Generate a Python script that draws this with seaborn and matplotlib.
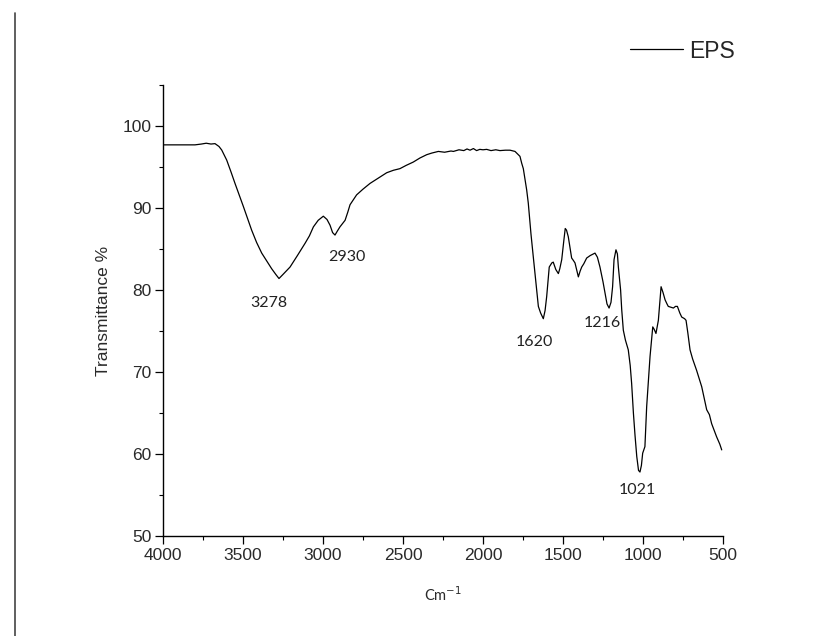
import matplotlib
matplotlib.use("Agg")
import matplotlib.pyplot as plt
from matplotlib.lines import Line2D
from matplotlib.ticker import MultipleLocator
import seaborn as sns
import pandas as pd

wavenumber = [4000, 3900, 3800, 3760, 3730, 3700, 3675, 3650, 3633, 3602, 3575, 3550,
              3498, 3446, 3415, 3383, 3350, 3321, 3295, 3275, 3250, 3230, 3206, 3160,
              3112, 3085, 3060, 3030, 2998, 2975, 2956, 2940, 2925, 2910, 2894, 2862,
              2845, 2831, 2790, 2750, 2706, 2650, 2602, 2560, 2519, 2480, 2436, 2394,
              2352, 2320, 2279, 2240, 2200, 2185, 2150, 2120, 2100, 2081, 2060, 2040,
              2020, 2000, 1977, 1950, 1920, 1894, 1860, 1831, 1800, 1790, 1769, 1758,
              1748, 1735, 1727, 1717, 1700, 1686, 1670, 1654, 1640, 1623, 1612, 1602,
              1586, 1570, 1561, 1545, 1529, 1520, 1508, 1495, 1486, 1478, 1467, 1455,
              1446, 1435, 1425, 1414, 1404, 1393, 1383, 1370, 1352, 1330, 1300, 1285,
              1269, 1250, 1237, 1225, 1212, 1200, 1190, 1181, 1169, 1160, 1154, 1140,
              1133, 1123, 1110, 1092, 1080, 1071, 1060, 1050, 1039, 1028, 1019, 1010,
              1002, 988, 977, 966, 956, 939, 930, 919, 904, 895, 887, 875,
              862, 850, 842, 825, 810, 797, 785, 770, 758, 740, 731, 720,
              706, 690, 665, 633, 602, 585, 571, 540, 520, 508]
transmittance = [97.7, 97.7, 97.7, 97.8, 97.9, 97.8, 97.85, 97.5, 97.07, 95.85, 94.4, 93.0,
                 90.2, 87.3, 85.8, 84.5, 83.5, 82.6, 81.9, 81.4, 81.9, 82.3, 82.8, 84.2,
                 85.7, 86.6, 87.7, 88.5, 89.0, 88.6, 87.9, 87.0, 86.7, 87.2, 87.7, 88.5,
                 89.5, 90.4, 91.6, 92.3, 93.0, 93.7, 94.3, 94.6, 94.8, 95.2, 95.6, 96.1,
                 96.5, 96.7, 96.9, 96.8, 96.95, 96.9, 97.1, 97.0, 97.2, 97.05, 97.25, 97.0,
                 97.15, 97.1, 97.15, 97.0, 97.1, 97.0, 97.05, 97.05, 96.9, 96.7, 96.3, 95.45,
                 94.8, 93.2, 92.2, 90.6, 86.8, 84.1, 81.0, 78.0, 77.2, 76.5, 77.5, 79.2,
                 82.8, 83.3, 83.4, 82.5, 82.0, 82.6, 83.7, 86.0, 87.5, 87.3, 86.5, 85.0,
                 83.9, 83.6, 83.3, 82.4, 81.6, 82.3, 82.8, 83.2, 83.9, 84.2, 84.5, 84.0,
                 82.8, 81.0, 79.6, 78.3, 77.8, 78.5, 80.4, 83.7, 84.9, 84.4, 82.8, 80.0,
                 77.6, 75.1, 73.9, 72.7, 70.8, 68.6, 65.0, 62.3, 59.7, 58.0, 57.8, 58.6,
                 60.1, 60.9, 65.8, 69.0, 71.9, 75.5, 75.2, 74.7, 76.3, 78.5, 80.4, 79.7,
                 78.8, 78.3, 78.0, 77.9, 77.8, 78.0, 78.0, 77.2, 76.7, 76.5, 76.3, 74.8,
                 72.7, 71.6, 70.2, 68.2, 65.4, 64.8, 63.7, 62.1, 61.2, 60.5]

peak_labels = ["3278", "2930", "1620", "1216", "1021"]
peak_label_x = [3337, 2850, 1681, 1256, 1037]
peak_label_y = [78.4, 84.0, 73.7, 76.0, 55.6]

series_name = "EPS"
x_ticks = [4000, 3500, 3000, 2500, 2000, 1500, 1000, 500]
y_ticks = [50, 60, 70, 80, 90, 100]

sns.set_theme(style="ticks")
plt.rcParams['font.family'] = ['Liberation Sans', 'DejaVu Sans']

df = pd.DataFrame({"wn": wavenumber, "T": transmittance, "s": series_name})

fig = plt.figure(figsize=(8.29, 6.36), dpi=100)
ax = fig.add_axes([163 / 829, 1 - 536 / 636, (723 - 163) / 829, (536 - 85) / 636])

sns.lineplot(data=df, x="wn", y="T", hue="s", palette=["black"], linewidth=0.9,
             ax=ax, legend=True)

ax.set_xlim(4000, 500)
ax.set_ylim(50, 105)
ax.set_xticks(x_ticks)
ax.set_yticks(y_ticks)
ax.xaxis.set_minor_locator(MultipleLocator(250))
ax.yaxis.set_minor_locator(MultipleLocator(5))
ax.tick_params(axis='both', which='major', direction='out', length=5.5, width=0.9,
               labelsize=12.5, color='black', labelcolor='#2a2a2a', pad=3)
ax.tick_params(axis='both', which='minor', direction='out', length=3, width=0.8, color='black')
sns.despine(ax=ax)
for sp in ['left', 'bottom']:
    ax.spines[sp].set_linewidth(1.0)
    ax.spines[sp].set_color('black')

ax.set_ylabel("Transmittance %", fontsize=12.5, color='#2a2a2a', labelpad=8)
ax.set_xlabel("Cm$^{-1}$", fontsize=10.5, color='#2a2a2a', labelpad=16,
              family=['Lato', 'DejaVu Sans'])

for lab, lx, ly in zip(peak_labels, peak_label_x, peak_label_y):
    ax.text(lx, ly, lab, ha='center', va='center', fontsize=11.5, color='#222222',
            family=['Lato', 'DejaVu Sans'])

handles, labels = ax.get_legend_handles_labels()
ax.get_legend().remove()
fig.legend(handles, labels, loc='center left', bbox_to_anchor=(630 / 829, 1 - 51 / 636),
           frameon=False, fontsize=16.5, handlelength=2.3, handletextpad=0.3,
           borderpad=0, borderaxespad=0)

fig.add_artist(Line2D([15 / 829, 15 / 829], [0, 1 - 13 / 636], transform=fig.transFigure,
                      color='#444444', linewidth=1.2))

fig.savefig("out.png", dpi=100)
